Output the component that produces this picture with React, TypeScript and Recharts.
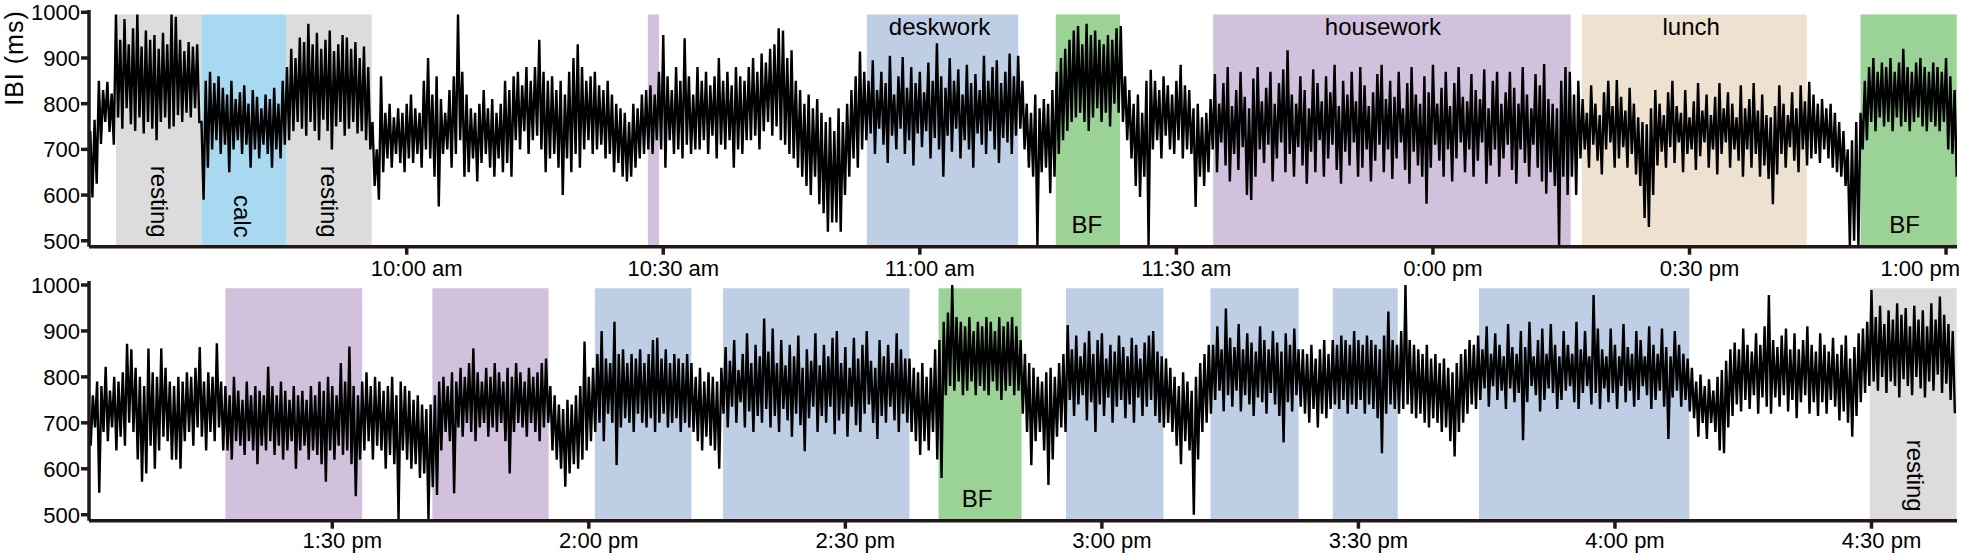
import React from 'react';
import { LineChart, Line, XAxis, YAxis, ReferenceArea } from 'recharts';

const FONT = '"Liberation Sans", Arial, Helvetica, sans-serif';
const AXIS_COLOR = '#231815';
const W = 1961;

// ---------- axes ----------
const yTicks = [500, 600, 700, 800, 900, 1000];
const topTicks = [600, 630, 660, 690, 720, 750, 780];
const topTickLabels = ['10:00 am', '10:30 am', '11:00 am', '11:30 am', '0:00 pm', '0:30 pm', '1:00 pm'];
const bottomTicks = [810, 840, 870, 900, 930, 960, 990];
const bottomTickLabels = ['1:30 pm', '2:00 pm', '2:30 pm', '3:00 pm', '3:30 pm', '4:00 pm', '4:30 pm'];

// ---------- activity colours ----------
const activityColors: Record<string, string> = {
  rest: '#dcdcdc',
  calc: '#a9d9f1',
  house: '#d1c1dd',
  desk: '#bdcee5',
  bf: '#9bd397',
  lunch: '#eee1cf',
};

// [start min, end min, kind, label, placement, dx]
const topRegions: [number, number, string, string, string, number][] = [
  [566.0, 576.0, 'rest', 'resting', 'rot', -8],
  [576.0, 585.9, 'calc', 'calc', 'rot', -10],
  [585.9, 595.9, 'rest', 'resting', 'rot', -8],
  [628.2, 629.5, 'house', '', '', 0],
  [653.8, 671.5, 'desk', 'deskwork', 'top', -3],
  [675.9, 683.4, 'bf', 'BF', 'bottom', -1],
  [694.3, 736.1, 'house', 'housework', 'top', -9],
  [737.4, 763.7, 'lunch', 'lunch', 'top', -3],
  [770.0, 781.25, 'bf', 'BF', 'bottom', -4],
];
const bottomRegions: [number, number, string, string, string, number][] = [
  [797.5, 813.5, 'house', '', '', 0],
  [821.7, 835.3, 'house', '', '', 0],
  [840.7, 852.0, 'desk', '', '', 0],
  [855.7, 877.5, 'desk', '', '', 0],
  [880.9, 890.6, 'bf', 'BF', 'bottom', -3],
  [895.8, 907.2, 'desk', '', '', 0],
  [912.7, 923.0, 'desk', '', '', 0],
  [927.0, 934.6, 'desk', '', '', 0],
  [944.1, 968.7, 'desk', '', '', 0],
  [989.8, 999.95, 'rest', 'resting', 'rot', -6],
];

// ---------- IBI series (half-minute upper / lower envelope) ----------
const topChunkStarts = [563, 566, 576, 586, 596, 600, 607, 612.5, 617.5, 625.5, 628, 634, 640, 645, 650, 654, 672, 676, 684, 687, 692, 694, 736, 737.5, 764, 770];
const topUpper: number[][] = [
  [740, 765, 850, 830, 848, 822],
  [995, 940, 985, 930, 965, 995, 925, 960, 940, 950, 920, 955, 930, 995, 990, 940, 915, 935, 925, 930],
  [760, 850, 870, 845, 860, 835, 820, 850, 810, 825, 840, 800, 830, 815, 790, 820, 810, 835, 800, 850],
  [880, 920, 900, 945, 935, 975, 930, 955, 920, 940, 960, 915, 930, 950, 945, 920, 935, 900, 925, 880],
  [760, 700, 860, 780, 800, 770, 790, 780],
  [800, 820, 790, 780, 850, 900, 820, 860, 810, 780, 830, 860, 995, 870],
  [820, 790, 780, 800, 830, 790, 810, 780, 800, 850, 830],
  [860, 870, 840, 880, 850, 880, 940, 870, 850, 860],
  [830, 850, 820, 870, 900, 930, 880, 850, 860, 870, 840, 830, 850, 820, 800, 790],
  [780, 760, 800, 790, 820],
  [830, 840, 820, 870, 950, 860, 830, 880, 850, 943, 860, 820],
  [880, 850, 870, 840, 860, 900, 850, 870, 840, 880, 860, 850],
  [880, 900, 870, 910, 890, 920, 930, 965, 960, 900],
  [917, 850, 830, 800, 820, 790, 810, 780, 760, 770],
  [740, 790, 760, 800, 830, 860, 914, 870],
  [850, 895, 830, 870, 845, 905, 820, 860, 902, 835, 880, 845, 870, 825, 890, 850, 932, 860, 835, 900, 850, 875, 820, 885, 845, 865, 830, 905, 850, 880, 895, 845, 870, 910, 860, 905],
  [850, 800, 780, 820, 790, 810, 800, 830],
  [870, 900, 920, 940, 960, 970, 930, 975, 950, 960, 940, 930, 950, 940, 965, 970],
  [860, 830, 800, 820, 780, 850],
  [874, 850, 830, 860, 840, 820, 850, 885, 840, 830],
  [790, 800, 770, 780],
  [810, 865, 800, 845, 880, 795, 830, 870, 815, 790,
   855, 880, 805, 835, 870, 800, 845, 875, 917, 820,
   800, 860, 830, 790, 875, 845, 805, 860, 825, 885,
   795, 850, 820, 870, 805, 880, 840, 795, 825, 865,
   885, 810, 850, 815, 870, 790, 845, 880, 820, 800,
   860, 825, 885, 800, 835, 870, 795, 845, 880, 815,
   805, 865, 830, 810, 875, 790, 850, 870, 800, 825,
   870, 835, 800, 880, 820, 790, 865, 840, 887, 810,
   800, 790, 850, 880],
  [870, 820, 850],
  [810, 780, 840, 800, 775, 825, 850, 795, 852, 815,
   785, 835, 800, 770, 760, 755, 790, 830, 800, 775,
   825, 850, 795, 780, 830, 770, 805, 845, 785, 820,
   775, 815, 845, 790, 825, 800, 770, 840, 790, 810,
   845, 785, 820, 775, 770, 795, 840, 800, 775, 825,
   790, 840, 805],
  [848, 820, 800, 810, 790, 800, 780, 760, 740, 700, 720, 760],
  [780, 850, 880, 900, 870, 890, 880, 900, 870, 890, 920, 880, 870, 890, 900, 880, 870, 890, 880, 870, 900, 860, 830],
];
const topLower: number[][] = [
  [595, 625, 712, 760, 738, 710],
  [770, 745, 790, 755, 740, 770, 735, 760, 745, 720, 760, 770, 745, 750, 775, 760, 780, 770, 790, 760],
  [590, 660, 700, 720, 690, 710, 650, 700, 720, 690, 710, 660, 700, 680, 710, 690, 660, 700, 680, 710],
  [720, 740, 760, 745, 730, 760, 740, 720, 765, 740, 700, 750, 760, 730, 745, 760, 735, 740, 720, 700],
  [620, 590, 650, 680, 660, 690, 670, 650],
  [680, 670, 690, 660, 700, 680, 640, 575, 690, 700, 660, 690, 720, 640],
  [650, 680, 630, 670, 690, 660, 640, 680, 650, 670, 640],
  [720, 700, 740, 690, 720, 730, 700, 650, 680, 690],
  [660, 600, 680, 650, 690, 660, 700, 720, 690, 700, 710, 680, 690, 650, 670, 640],
  [630, 640, 660, 680, 690],
  [700, 690, 720, 700, 660, 720, 690, 700, 680, 710, 690, 700],
  [700, 720, 690, 730, 680, 710, 700, 720, 660, 700, 690, 720],
  [720, 730, 700, 740, 760, 730, 750, 720, 710, 690],
  [680, 660, 640, 620, 600, 640, 580, 560, 520, 540],
  [540, 520, 600, 640, 680, 660, 700, 720],
  [735, 690, 745, 710, 670, 730, 700, 745, 690, 720, 665, 735, 705, 740, 680, 725, 700, 640, 730, 695, 745, 680, 720, 700, 660, 735, 710, 690, 740, 700, 670, 725, 715, 690, 730, 745],
  [700, 660, 640, 490, 650, 660, 604, 640],
  [690, 720, 740, 760, 770, 780, 760, 740, 770, 790, 760, 780, 750, 800, 780, 760],
  [720, 680, 620, 596, 640, 490],
  [700, 720, 680, 730, 700, 690, 720, 680, 700, 690],
  [574, 640, 620, 650],
  [700, 650, 715, 665, 630, 690, 655, 705, 600, 589,
   640, 700, 670, 710, 630, 680, 715, 650, 690, 640,
   705, 665, 625, 695, 650, 720, 640, 680, 710, 655,
   625, 695, 665, 715, 640, 660, 700, 630, 675, 710,
   650, 700, 635, 680, 715, 655, 625, 695, 665, 640,
   581, 660, 710, 675, 640, 700, 630, 680, 715, 650,
   700, 640, 675, 715, 625, 665, 700, 640, 680, 710,
   655, 625, 700, 670, 640, 710, 660, 630, 603, 650,
   620, 490, 640, 600],
  [640, 600, 680],
  [700, 660, 710, 675, 645, 700, 715, 660, 680, 705,
   660, 690, 645, 620, 550, 530, 600, 665, 695, 660,
   705, 670, 715, 650, 690, 700, 655, 685, 715, 660,
   700, 645, 690, 715, 660, 700, 675, 640, 700, 660,
   690, 640, 665, 635, 580, 645, 690, 660, 705, 675,
   650, 700, 665],
  [680, 690, 670, 700, 680, 660, 650, 640, 620, 490, 500, 490],
  [700, 720, 760, 740, 770, 750, 760, 740, 770, 750, 760, 740, 760, 770, 750, 740, 760, 750, 740, 760, 700, 690, 640],
];

const bottomChunkStarts = [781.5, 786, 791.5, 797.5, 813.5, 821.5, 835.5, 840.5, 852, 855.5, 877.5, 881, 890.5, 896, 907.5, 913, 923.5, 927, 935, 944.5, 969, 990];
const bottomUpper: number[][] = [
  [740, 760, 790, 780, 822, 770, 800, 790, 810],
  [872, 860, 820, 800, 780, 862, 810, 800, 862, 820, 790],
  [780, 800, 790, 810, 800, 820, 865, 790, 810, 800, 873, 790],
  [780, 760, 800, 770, 750, 790, 760, 780, 770, 760, 822, 780, 760, 790, 770, 750, 780, 760, 770, 750, 780, 760, 790, 770, 800, 780, 760, 830, 790, 866, 780, 760],
  [790, 810, 780, 800, 790, 770, 780, 800, 760, 790, 780, 770, 750, 760, 740, 730],
  [740, 760, 790, 800, 780, 810, 790, 820, 800, 830, 862, 810, 790, 820, 800, 830, 810, 790, 820, 800, 830, 810, 790, 820, 800, 810, 830, 840],
  [780, 760, 740, 730, 750, 740, 760, 780, 877, 800],
  [820, 850, 900, 840, 830, 920, 850, 860, 830, 850, 840, 860, 830, 850, 880, 885, 840, 860, 830, 850, 840, 830, 850],
  [830, 800, 820, 790, 810, 800, 790],
  [820, 865, 835, 880, 815, 850, 895, 830, 870, 845,
   927, 855, 905, 830, 880, 825, 870, 845, 890, 820,
   860, 835, 895, 825, 870, 845, 885, 900, 830, 865,
   820, 885, 840, 870, 900, 835, 820, 880, 845, 870,
   830, 895, 860, 840],
  [840, 820, 810, 830, 800, 820, 860],
  [880, 920, 940, 1000, 930, 920, 910, 930, 900, 920, 910, 930, 920, 900, 930, 910, 920, 930, 910],
  [880, 850, 830, 820, 800, 790, 810, 820, 800, 830, 850],
  [913, 860, 890, 845, 875, 900, 850, 880, 895, 840, 870, 855, 890, 865, 845, 885, 870, 840, 875, 890, 900, 855, 845],
  [840, 820, 800, 780, 810, 790, 770, 800, 830, 850, 870],
  [870, 910, 860, 949, 885, 865, 915, 860, 895, 875, 855, 910, 880, 860, 900, 875, 855, 895, 870, 905, 860],
  [860, 850, 870, 840, 860, 880, 850],
  [880, 870, 890, 880, 870, 900, 880, 870, 890, 880, 870, 860, 890, 942, 880, 870],
  [900, 1000, 880, 870, 860, 850, 870, 840, 850, 830, 840, 820, 810, 830, 850, 860, 880, 870, 890],
  [860, 910, 850, 895, 870, 845, 915, 865, 850, 900,
   865, 920, 845, 880, 905, 850, 915, 870, 845, 900,
   870, 850, 920, 860, 900, 845, 978, 905, 860, 845,
   905, 870, 845, 915, 865, 850, 900, 880, 845, 910,
   870, 850, 905, 865, 845, 900, 870, 850, 840],
  [820, 790, 805, 780, 795, 770, 800, 815, 835, 860,
   875, 860, 905, 870, 855, 895, 870, 910, 978, 880,
   865, 890, 905, 860, 895, 860, 880, 910, 870, 855,
   895, 870, 855, 885, 850, 870, 890, 840, 865, 895,
   905, 920],
  [989, 930, 955, 915, 945, 925, 960, 935, 950, 910, 955, 925, 945, 910, 960, 925, 975, 935, 915, 900],
];
const bottomLower: number[][] = [
  [650, 690, 548, 680, 660, 690, 640, 670, 650],
  [700, 680, 620, 572, 590, 650, 600, 640, 670, 660, 620],
  [620, 600, 660, 680, 650, 690, 670, 640, 680, 660, 690, 640],
  [640, 620, 660, 650, 630, 660, 640, 610, 650, 640, 660, 630, 650, 620, 640, 660, 600, 640, 650, 620, 640, 630, 610, 572, 640, 620, 650, 630, 640, 610, 540, 620],
  [640, 660, 620, 650, 640, 600, 630, 610, 490, 640, 620, 600, 610, 580, 590, 490],
  [560, 543, 640, 680, 660, 547, 690, 670, 700, 680, 660, 690, 700, 670, 690, 680, 700, 660, 590, 680, 700, 690, 670, 700, 680, 660, 690, 700],
  [640, 620, 600, 561, 590, 610, 600, 620, 640, 660],
  [680, 700, 660, 720, 700, 608, 690, 710, 700, 680, 720, 700, 690, 710, 680, 700, 720, 690, 700, 710, 680, 700, 690],
  [680, 660, 640, 670, 650, 640, 600],
  [720, 690, 735, 700, 745, 690, 725, 680, 715, 700,
   730, 690, 715, 680, 730, 705, 670, 720, 695, 638,
   710, 735, 680, 715, 700, 735, 675, 705, 720, 670,
   735, 695, 680, 720, 740, 700, 665, 715, 700, 735,
   705, 680, 720, 700],
  [680, 660, 630, 660, 640, 680, 620],
  [580, 760, 780, 770, 790, 760, 770, 790, 760, 780, 770, 760, 790, 770, 750, 770, 780, 760, 770],
  [720, 680, 608, 660, 680, 640, 565, 620, 670, 690, 680],
  [750, 715, 740, 760, 705, 745, 680, 740, 715, 755, 700, 735, 750, 710, 740, 700, 755, 715, 735, 750, 715, 700, 690],
  [700, 680, 650, 610, 660, 640, 500, 620, 680, 700, 720],
  [750, 770, 725, 760, 735, 770, 725, 760, 740, 715, 755, 745, 720, 765, 740, 715, 657, 745, 725, 760, 735],
  [720, 700, 730, 690, 720, 710, 730],
  [740, 730, 750, 720, 740, 730, 750, 720, 740, 730, 710, 634, 720, 740, 730, 720],
  [730, 740, 720, 710, 720, 700, 690, 710, 700, 680, 690, 660, 627, 680, 700, 720, 740, 730, 750],
  [775, 735, 780, 750, 770, 730, 775, 745, 765, 662,
   745, 780, 760, 725, 750, 775, 765, 730, 750, 770,
   780, 745, 730, 765, 780, 740, 765, 730, 775, 745,
   765, 730, 780, 745, 770, 735, 750, 780, 760, 730,
   750, 770, 735, 665, 755, 770, 735, 750, 725],
  [710, 670, 700, 665, 700, 680, 640, 634, 690, 715,
   740, 725, 750, 730, 760, 720, 755, 735, 720, 755,
   735, 760, 725, 750, 710, 745, 760, 720, 745, 715,
   745, 720, 750, 735, 705, 725, 700, 670, 715, 745,
   765, 780],
  [790, 770, 800, 765, 790, 780, 755, 795, 780, 760, 800, 775, 755, 790, 770, 805, 765, 785, 750, 721],
];

// Build the zig-zag table: upper value at t, lower value a quarter minute later
function buildSeries(starts: number[], upper: number[][], lower: number[][]) {
  const rows: { t: number; v: number }[] = [];
  starts.forEach((s, c) => {
    const u = upper[c];
    const l = lower[c];
    const n = Math.min(u.length, l.length);
    for (let j = 0; j < n; j++) {
      const t = s + j * 0.5;
      rows.push({ t, v: u[j] });
      rows.push({ t: t + 0.25, v: l[j] });
    }
  });
  return rows;
}

const topData = buildSeries(topChunkStarts, topUpper, topLower);
const bottomData = buildSeries(bottomChunkStarts, bottomUpper, bottomLower);

const makeRegionLabel = (text: string, place: string, dx: number) => (props: any) => {
  const vb = props.viewBox || props;
  if (!text || !vb || vb.x == null) return null;
  const cx = vb.x + vb.width / 2;
  const bottom = vb.y + vb.height;
  const common = { fontFamily: FONT, fontSize: 24, fill: '#000' };
  if (place === 'top') {
    return <text x={cx + dx} y={vb.y + 20.5} textAnchor="middle" {...common}>{text}</text>;
  }
  if (place === 'bottom') {
    return <text x={cx + dx} y={bottom - 13.4} textAnchor="middle" {...common}>{text}</text>;
  }
  if (place === 'rot') {
    const x = cx + dx;
    const y = bottom - 9;
    return (
      <text x={x} y={y} transform={`rotate(90 ${x} ${y})`} textAnchor="end" {...common}>{text}</text>
    );
  }
  return null;
};

const makeXTick = (ticks: number[], labels: string[], dy: number, endValue: number | null) => (props: any) => {
  const { x, y, payload } = props;
  const i = ticks.indexOf(payload.value);
  const text = i >= 0 ? labels[i] : '';
  const atEnd = endValue !== null && payload.value === endValue;
  return (
    <text
      x={atEnd ? W - 1 : x + 10}
      y={y + dy}
      textAnchor={atEnd ? 'end' : 'middle'}
      fontFamily={FONT}
      fontSize={22}
      fill="#000"
    >
      {text}
    </text>
  );
};

const renderYTick = (props: any) => (
  <text x={props.x} y={props.y + 7.9} textAnchor="end" fontFamily={FONT} fontSize={22} fill="#000">
    {props.payload.value}
  </text>
);

const renderYLabel = () => (
  <text
    x={23}
    y={58}
    transform="rotate(-90 23 58)"
    textAnchor="middle"
    fontFamily={FONT}
    fontSize={25}
    letterSpacing={1}
    fill="#000"
  >
    IBI (ms)
  </text>
);

type PanelProps = {
  data: { t: number; v: number }[];
  xDomain: [number, number];
  yDomain: [number, number];
  ticks: number[];
  tickLabels: string[];
  regions: [number, number, string, string, string, number][];
  areaTop: number;
  height: number;
  marginTop: number;
  xAxisHeight: number;
  tickDy: number;
  endValue: number | null;
  showYLabel: boolean;
};

function Panel(p: PanelProps) {
  return (
    <LineChart
      width={W}
      height={p.height}
      data={p.data}
      margin={{ top: p.marginTop, right: 4, bottom: 0, left: 0 }}
    >
      {p.regions.map((r, i) => (
        <ReferenceArea
          key={i}
          x1={r[0]}
          x2={r[1]}
          y1={p.yDomain[0]}
          y2={p.areaTop}
          fill={activityColors[r[2]]}
          fillOpacity={1}
          stroke="none"
          ifOverflow="hidden"
          label={makeRegionLabel(r[3], r[4], r[5])}
        />
      ))}
      <XAxis
        dataKey="t"
        type="number"
        domain={p.xDomain}
        ticks={p.ticks}
        interval={0}
        allowDataOverflow
        height={p.xAxisHeight}
        axisLine={{ stroke: AXIS_COLOR, strokeWidth: 3.5 }}
        tickLine={{ stroke: AXIS_COLOR, strokeWidth: 3.5 }}
        tickSize={8}
        tickMargin={2}
        tick={makeXTick(p.ticks, p.tickLabels, p.tickDy, p.endValue)}
      />
      <YAxis
        type="number"
        domain={p.yDomain}
        ticks={yTicks}
        interval={0}
        allowDataOverflow
        width={89}
        axisLine={{ stroke: AXIS_COLOR, strokeWidth: 3.5 }}
        tickLine={{ stroke: AXIS_COLOR, strokeWidth: 3.5 }}
        tickSize={8}
        tickMargin={1}
        tick={renderYTick}
        label={p.showYLabel ? renderYLabel : undefined}
      />
      <Line
        type="linear"
        dataKey="v"
        stroke="#000"
        strokeWidth={2.4}
        strokeLinejoin="miter"
        strokeMiterlimit={2}
        dot={false}
        activeDot={false}
        isAnimationActive={false}
      />
    </LineChart>
  );
}

export default function App() {
  return (
    <div style={{ position: 'absolute', left: 0, top: 0, width: W, height: 557, background: '#fff', overflow: 'hidden' }}>
      <div style={{ position: 'absolute', left: 0, top: 0 }}>
        <Panel
          data={topData}
          xDomain={[562.85, 781.28]}
          yDomain={[487, 1005]}
          ticks={topTicks}
          tickLabels={topTickLabels}
          regions={topRegions}
          areaTop={995}
          height={285}
          marginTop={10}
          xAxisHeight={38.3}
          tickDy={19.5}
          endValue={780}
          showYLabel={true}
        />
      </div>
      <div style={{ position: 'absolute', left: 0, top: 270 }}>
        <Panel
          data={bottomData}
          xDomain={[781.55, 1000]}
          yDomain={[487, 1008.7]}
          ticks={bottomTicks}
          tickLabels={bottomTickLabels}
          regions={bottomRegions}
          areaTop={993}
          height={287}
          marginTop={11}
          xAxisHeight={36.3}
          tickDy={17.5}
          endValue={null}
          showYLabel={false}
        />
      </div>
    </div>
  );
}
